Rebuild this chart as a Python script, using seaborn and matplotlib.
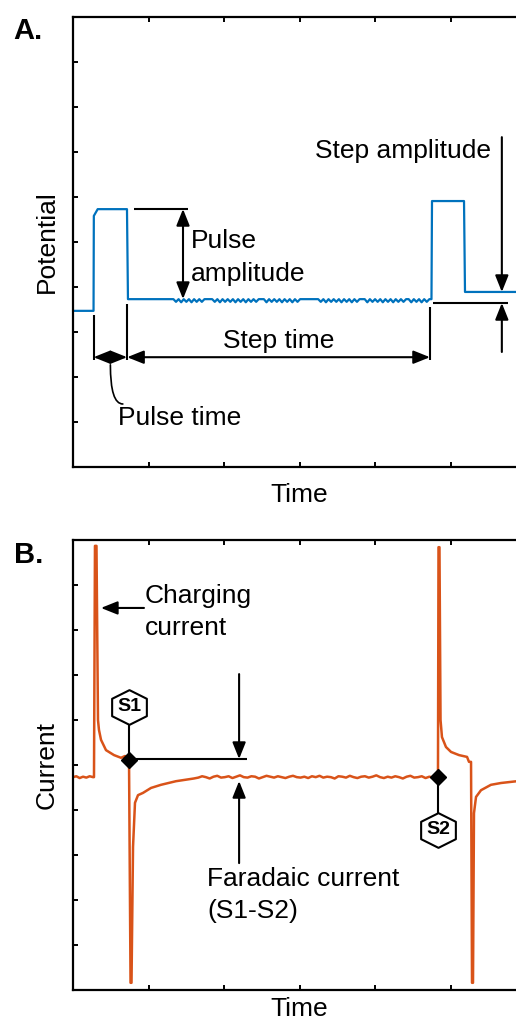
import numpy as np
import pandas as pd
import matplotlib
matplotlib.use("Agg")
import matplotlib.pyplot as plt
import seaborn as sns
from matplotlib.path import Path

# ---------------- data ----------------
# Panel A: potential waveform
pot_time_start = [0.00, 0.272, 0.276, 0.327, 0.715, 0.728, 1.300]
pot_val_start = [3.47, 3.47, 5.58, 5.73, 5.73, 3.73, 3.73]
pot_ripple = [3.73, 3.67, 3.73, 3.66, 3.73, 3.67, 3.73, 3.66, 3.73, 3.67, 3.73, 3.67, 3.73,
              3.73, 3.73, 3.73,
              3.67, 3.73, 3.66, 3.73, 3.67, 3.73, 3.67, 3.73, 3.66, 3.73, 3.67, 3.73, 3.66, 3.73, 3.67, 3.73, 3.67,
              3.73, 3.73, 3.73,
              3.66, 3.73, 3.67, 3.73, 3.67, 3.73, 3.66, 3.73, 3.67, 3.73, 3.66, 3.73, 3.67, 3.73,
              3.73, 3.73, 3.73, 3.73, 3.73, 3.73, 3.73,
              3.67, 3.73, 3.66, 3.73, 3.67, 3.73, 3.67, 3.73, 3.66, 3.73, 3.67, 3.73, 3.66, 3.73, 3.67,
              3.73, 3.73, 3.73,
              3.66, 3.73, 3.67, 3.73, 3.67, 3.73, 3.66, 3.73, 3.67, 3.73, 3.66, 3.73, 3.67, 3.73, 3.67,
              3.73, 3.73,
              3.66, 3.73, 3.67, 3.73, 3.66, 3.73, 3.67, 3.73]
pot_ripple_span = [1.33, 4.72]
pot_time_end = [4.748, 4.755, 5.179, 5.192, 6.00]
pot_val_end = [3.73, 5.91, 5.91, 3.89, 3.89]

# Panel B: current response
cur_pre = [4.73, 4.75, 4.71, 4.74, 4.72, 4.75, 4.73]
cur_pre_span = [0.00, 0.265]
cur_p1_time = [0.278, 0.291, 0.311, 0.331, 0.344, 0.371, 0.437, 0.543, 0.636, 0.689,
               0.728, 0.742, 0.762, 0.775, 0.795, 0.821, 0.861, 0.927, 1.033, 1.166,
               1.364, 1.60]
cur_p1_val = [4.73, 9.87, 9.87, 6.00, 5.78, 5.56, 5.33, 5.22, 5.16, 5.20,
              5.11, 5.11, 0.16, 0.16, 3.18, 4.16, 4.33, 4.38, 4.49, 4.56,
              4.64, 4.70]
cur_noise = [4.72, 4.75, 4.73, 4.70, 4.74, 4.76, 4.72, 4.73, 4.75, 4.71, 4.74, 4.77, 4.73,
             4.72, 4.75, 4.74, 4.70, 4.73, 4.76, 4.74, 4.72, 4.75, 4.73, 4.71, 4.74, 4.76,
             4.73, 4.72, 4.74, 4.71, 4.75, 4.73, 4.76, 4.72, 4.74, 4.73, 4.70, 4.75, 4.74,
             4.72, 4.76, 4.73, 4.71, 4.74, 4.75, 4.72, 4.74, 4.77, 4.73, 4.71, 4.74, 4.72,
             4.75, 4.73, 4.70, 4.74, 4.76, 4.72, 4.73, 4.75, 4.71, 4.74, 4.72, 4.73]
cur_noise_span = [1.66, 4.82]
cur_p2_time = [4.834, 4.841, 4.854, 4.868, 4.887, 4.940, 5.007, 5.113, 5.219, 5.245,
               5.272, 5.285, 5.298, 5.311, 5.338, 5.404, 5.536, 5.669, 5.881, 6.00]
cur_p2_val = [4.73, 9.84, 9.84, 6.00, 5.62, 5.40, 5.29, 5.22, 5.18, 5.07,
              5.07, 0.16, 0.16, 3.93, 4.29, 4.44, 4.56, 4.60, 4.64, 4.65]

# sample points S1 / S2
sample_labels = ["S1", "S2"]
sample_time = [0.742, 4.834]
sample_val = [5.11, 4.73]
sample_badge_val = [6.30, 3.56]

x_ticks = [1, 2, 3, 4, 5, 6]
y_ticks = [1, 2, 3, 4, 5, 6, 7, 8, 9]

# ---------------- build frames ----------------
pot_df = pd.DataFrame({
    "Time": np.concatenate([pot_time_start,
                            np.linspace(pot_ripple_span[0], pot_ripple_span[1], len(pot_ripple)),
                            pot_time_end]),
    "Potential": np.concatenate([pot_val_start, pot_ripple, pot_val_end]),
})
cur_df = pd.DataFrame({
    "Time": np.concatenate([np.linspace(cur_pre_span[0], cur_pre_span[1], len(cur_pre)),
                            cur_p1_time,
                            np.linspace(cur_noise_span[0], cur_noise_span[1], len(cur_noise)),
                            cur_p2_time]),
    "Current": np.concatenate([cur_pre, cur_p1_val, cur_noise, cur_p2_val]),
})

# ---------------- style ----------------
sns.set_theme(style="white")
plt.rcParams["font.family"] = ["Liberation Sans", "DejaVu Sans"]
plt.rcParams["text.color"] = "black"
plt.rcParams["axes.labelcolor"] = "black"
FS = 19
BLUE = "#0072BD"
ORANGE = "#D95319"

W, H = 516, 1021
fig = plt.figure(figsize=(W / 100, H / 100), dpi=100)
axA = fig.add_axes([73 / W, 1 - 467 / H, 453 / W, 450 / H])
axB = fig.add_axes([73 / W, 1 - 990 / H, 453 / W, 450 / H])

sns.lineplot(data=pot_df, x="Time", y="Potential", ax=axA, color=BLUE, lw=1.6,
             estimator=None, sort=False)
sns.lineplot(data=cur_df, x="Time", y="Current", ax=axB, color=ORANGE, lw=1.8,
             estimator=None, sort=False)

for ax, ylab in ((axA, "Potential"), (axB, "Current")):
    ax.set_xlim(0, 6)
    ax.set_ylim(0, 10)
    ax.set_xticks(x_ticks)
    ax.set_yticks(y_ticks)
    ax.tick_params(direction="in", length=3.5, width=1.4, color="black",
                   top=True, bottom=True, left=True, right=False,
                   labelbottom=False, labelleft=False)
    for side in ("left", "top", "bottom"):
        ax.spines[side].set_visible(True)
        ax.spines[side].set_linewidth(1.6)
        ax.spines[side].set_color("black")
    ax.spines["right"].set_visible(False)
    ax.set_ylabel(ylab, fontsize=FS, color="black")
    ax.set_xlabel("Time", fontsize=FS, color="black")
    ax.yaxis.set_label_coords(-0.032, 0.5)

axA.xaxis.set_label_coords(0.5, -0.036)
axB.xaxis.set_label_coords(0.5, -0.016)

fig.text(13 / W, 1 - 39 / H, "A.", fontsize=21, fontweight="bold", va="baseline", color="black")
fig.text(14 / W, 1 - 563 / H, "B.", fontsize=21, fontweight="bold", va="baseline", color="black")

ARW = dict(lw=1.5, color="black", shrinkA=0, shrinkB=0, mutation_scale=20)


def arrow(ax, tail, tip, style="-|>,head_length=0.5,head_width=0.2"):
    ax.annotate("", xy=tip, xytext=tail,
                arrowprops=dict(arrowstyle=style, **ARW))


def seg(ax, p0, p1):
    ax.plot([p0[0], p1[0]], [p0[1], p1[1]], color="black", lw=1.5,
            solid_capstyle="butt")


# ---- Panel A annotations ----
seg(axA, (0.81, 5.733), (1.52, 5.733))
arrow(axA, (1.457, 3.733), (1.457, 5.733),
      style="<|-|>,head_length=0.5,head_width=0.2")
axA.text(1.565, 4.87, "Pulse", fontsize=FS, va="baseline")
axA.text(1.565, 4.14, "amplitude", fontsize=FS, va="baseline")

seg(axA, (0.272, 3.38), (0.272, 2.38))
seg(axA, (0.717, 3.62), (0.717, 2.38))
seg(axA, (4.728, 3.56), (4.728, 2.38))
arrow(axA, (0.272, 2.44), (0.717, 2.44), style="<|-|>,head_length=0.5,head_width=0.2")
arrow(axA, (0.717, 2.44), (4.728, 2.44), style="<|-|>,head_length=0.5,head_width=0.2")
axA.text(2.72, 2.64, "Step time", fontsize=FS, ha="center", va="baseline")
axA.text(0.60, 0.93, "Pulse time", fontsize=FS, va="baseline")
axA.annotate("", xy=(0.495, 2.27), xytext=(0.66, 1.40),
             arrowprops=dict(arrowstyle="-", lw=1.2, color="black", shrinkA=0, shrinkB=0,
                             connectionstyle="angle3,angleA=0,angleB=90"))

axA.text(5.54, 6.867, "Step amplitude", fontsize=FS, ha="right", va="baseline")
arrow(axA, (5.68, 7.33), (5.68, 3.889))
seg(axA, (4.77, 3.644), (5.76, 3.644))
arrow(axA, (5.68, 2.556), (5.68, 3.644))

# ---- Panel B annotations ----
axB.text(0.955, 8.60, "Charging", fontsize=FS, va="baseline")
axB.text(0.955, 7.88, "current", fontsize=FS, va="baseline")
arrow(axB, (0.94, 8.49), (0.37, 8.49))

seg(axB, (0.742, 5.133), (2.31, 5.133))
arrow(axB, (2.20, 7.02), (2.20, 5.133))
arrow(axB, (2.20, 2.82), (2.20, 4.644))
axB.text(1.78, 2.31, "Faradaic current", fontsize=FS, va="baseline")
axB.text(1.78, 1.60, "(S1-S2)", fontsize=FS, va="baseline")

hex_verts = [(0, 0.5), (0.5, 0.25), (0.5, -0.25), (0, -0.5), (-0.5, -0.25), (-0.5, 0.25), (0, 0.5)]
hex_marker = Path(hex_verts, [Path.MOVETO] + [Path.LINETO] * 5 + [Path.CLOSEPOLY])
for lab, t, v, bv in zip(sample_labels, sample_time, sample_val, sample_badge_val):
    axB.plot([t, t], [v, bv], color="black", lw=1.5, zorder=4)
    axB.plot([t], [v], marker="D", ms=8, color="black", zorder=6, linestyle="none")
    axB.plot([t], [bv], marker=hex_marker, ms=25, markerfacecolor="white",
             markeredgecolor="black", markeredgewidth=1.5, zorder=5, linestyle="none")
    axB.text(t, bv, lab, fontsize=14, fontweight="bold", ha="center", va="center",
             zorder=7)

fig.savefig("out.png", dpi=100)
